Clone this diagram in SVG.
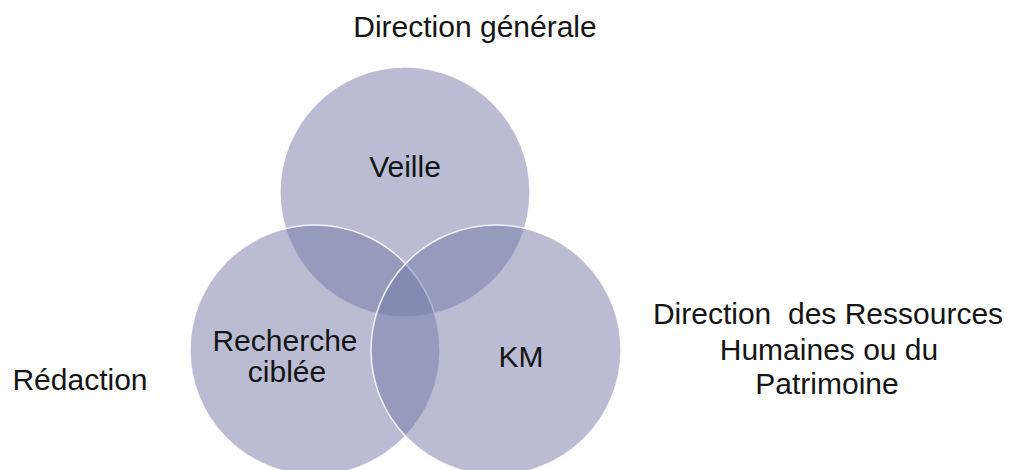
<svg xmlns="http://www.w3.org/2000/svg" width="1010" height="470" viewBox="0 0 1010 470">
  <style>
    .set { fill: #7379a7; fill-opacity: 0.5; stroke: #ffffff; stroke-opacity: 0.85; stroke-width: 1.5; }
    .lbl { font-family: "Liberation Sans", Arial, sans-serif; font-size: 30px; fill: #141414; text-anchor: middle; }
  </style>
  <rect width="1010" height="470" fill="#ffffff"/>

  <!-- three overlapping sets -->
  <g id="veille">
    <circle class="set" cx="405" cy="192" r="125"/>
    <text class="lbl" x="405" y="177">Veille</text>
  </g>
  <g id="recherche">
    <circle class="set" cx="315" cy="350" r="125"/>
  </g>
  <g id="km">
    <circle class="set" cx="496" cy="350" r="125"/>
  </g>

  <!-- labels inside the lower sets, drawn above all fills -->
  <g id="recherche-label">
    <text class="lbl" x="285" y="351">Recherche</text>
    <text class="lbl" x="287" y="382">ciblée</text>
  </g>
  <g id="km-label">
    <text class="lbl" x="521" y="367">KM</text>
  </g>

  <!-- outside labels -->
  <g id="direction-generale">
    <text class="lbl" x="475" y="37">Direction générale</text>
  </g>
  <g id="redaction">
    <text class="lbl" x="80" y="390">Rédaction</text>
  </g>
  <g id="drh">
    <text class="lbl" x="828" y="324" xml:space="preserve" style="white-space: pre">Direction  des Ressources</text>
    <text class="lbl" x="829" y="360">Humaines ou du</text>
    <text class="lbl" x="827" y="394">Patrimoine</text>
  </g>

  <g id="connectors"/>
</svg>
